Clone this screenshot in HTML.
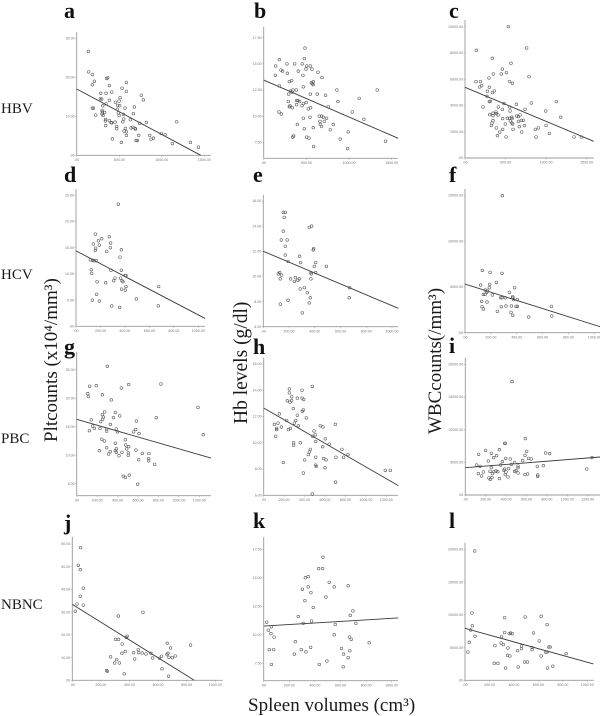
<!DOCTYPE html>
<html lang="en">
<head>
<meta charset="utf-8">
<title>Spleen volume correlations</title>
<style>
html,body{margin:0;padding:0;background:#fff;width:600px;height:716px;overflow:hidden}
svg{display:block;position:absolute;left:0;top:0}
text{font-family:"Liberation Serif",serif;fill:#1a1a1a}
.letter{font-size:22px;font-weight:bold;fill:#111}
.row{font-size:15px}
.ytitle{font-size:19px}
.xtitle{font-size:19px}
.tick{font-family:"Liberation Sans",sans-serif;font-size:3.6px;fill:#777}
</style>
</head>
<body>
<svg id="figure" width="600" height="716" viewBox="0 0 600 716" xmlns="http://www.w3.org/2000/svg">
<text class="letter" x="64" y="18">a</text>
<text class="letter" x="254" y="18">b</text>
<text class="letter" x="449" y="18">c</text>
<text class="letter" x="64" y="182">d</text>
<text class="letter" x="253" y="182">e</text>
<text class="letter" x="449" y="182">f</text>
<text class="letter" x="64" y="354">g</text>
<text class="letter" x="253" y="354">h</text>
<text class="letter" x="449" y="353">i</text>
<text class="letter" x="64" y="530">j</text>
<text class="letter" x="253" y="528">k</text>
<text class="letter" x="449" y="528">l</text>
<text class="row" x="1" y="113">HBV</text>
<text class="row" x="1" y="279">HCV</text>
<text class="row" x="1" y="443">PBC</text>
<text class="row" x="1" y="609">NBNC</text>
<text class="ytitle" transform="translate(57 442) rotate(-90)">Pltcounts (x10⁴/mm³)</text>
<text class="ytitle" style="font-size:19.5px" transform="translate(247 424) rotate(-90)">Hb levels (g/dl)</text>
<text class="ytitle" transform="translate(441 434) rotate(-90)">WBCcounts(/mm³)</text>
<text class="xtitle" x="248" y="711">Spleen volumes (cm³)</text>
</svg>
<script>
const panelAPoints=[[137,26.6],[141,21.4],[184,20.7],[208,19.0],[184,18.1],[282,15.9],[345,15.9],[353,19.7],[365,19.9],[384,17.9],[412,16.2],[533,17.2],[584,18.7],[584,16.4],[760,15.4],[784,14.2],[510,14.8],[498,13.9],[455,13.6],[384,14.1],[278,14.5],[294,14.4],[345,13.2],[306,12.7],[482,12.8],[506,12.7],[568,12.1],[678,12.4],[184,12.1],[196,12.1],[223,10.3],[298,11.5],[302,11.1],[329,11.0],[298,10.6],[310,10.2],[341,9.2],[337,8.8],[341,7.6],[384,8.9],[404,8.4],[412,8.3],[451,8.5],[470,7.4],[470,6.8],[478,11.8],[490,10.9],[498,10.2],[549,10.5],[553,9.3],[541,8.6],[631,9.1],[666,10.7],[819,8.4],[741,8.2],[1176,8.6],[572,6.9],[557,6.2],[584,6.0],[584,5.1],[639,7.0],[659,7.2],[686,6.9],[690,6.7],[729,5.1],[419,4.2],[525,3.3],[698,3.8],[713,3.8],[858,5.1],[874,4.1],[902,4.4],[992,5.6],[1039,5.3],[1125,3.0],[1337,3.3],[1431,2.1]];
const panelATrend=[[0,17],[1458,0]];
const panelAXTicks=[0,500,1000,1500];
const panelAYTicks=[0,10,20,30];

const panelBPoints=[[484,16.5],[476,15.5],[183,15.4],[273,15.0],[363,15.0],[452,15.0],[140,14.8],[503,14.8],[546,14.8],[495,14.5],[566,14.5],[203,14.4],[222,14.3],[406,14.3],[636,14.2],[277,14.1],[137,13.9],[460,13.9],[683,13.7],[328,13.4],[300,13.3],[558,13.2],[581,13.3],[569,13.1],[581,13.0],[183,12.9],[464,12.8],[858,12.5],[1330,12.5],[343,12.5],[382,12.5],[316,12.4],[332,12.3],[292,12.1],[546,12.1],[628,12.1],[725,12.0],[1119,11.7],[870,11.4],[289,11.4],[386,11.5],[402,11.5],[421,11.4],[464,11.2],[449,11.0],[386,11.1],[499,11.3],[300,10.9],[308,11.0],[335,10.8],[523,10.7],[550,10.8],[757,10.9],[179,10.4],[207,10.2],[1037,10.4],[651,10.0],[679,10.0],[542,9.9],[464,9.8],[698,9.9],[737,9.8],[1174,9.7],[659,9.5],[710,9.5],[394,9.2],[663,9.2],[679,9.0],[815,9.2],[476,8.8],[581,8.9],[780,8.7],[991,8.5],[339,8.0],[351,8.1],[503,8.0],[530,7.9],[897,7.8],[1427,7.6],[585,7.1],[983,6.9]];
const panelBTrend=[[0,13.45],[1576,7.88]];
const panelBXTicks=[0,500,1000,1500];
const panelBYTicks=[7.5,10,12.5,15,17.5];

const panelCPoints=[[534,10008],[760,8382],[140,8204],[337,7595],[567,7214],[460,6782],[510,6502],[448,6401],[349,6401],[296,6096],[789,6198],[547,5817],[584,5690],[136,5817],[189,5817],[206,5512],[181,5410],[300,5385],[275,5080],[362,5105],[337,4978],[271,4699],[300,4293],[312,4318],[1126,4293],[818,4191],[481,4140],[633,4089],[222,3886],[411,3886],[551,3886],[460,3708],[740,3708],[555,3581],[995,3581],[345,3404],[382,3505],[386,3378],[304,3302],[345,3226],[407,3277],[678,3277],[637,3200],[658,3150],[1180,3099],[464,2997],[522,3023],[547,3023],[575,3099],[580,2997],[559,2819],[658,2794],[695,2870],[719,2870],[345,2845],[333,2667],[575,2667],[497,2591],[588,2591],[325,2489],[732,2464],[670,2388],[999,2489],[386,2286],[464,2184],[592,2184],[867,2184],[904,2286],[427,1981],[699,1981],[1040,1880],[399,1702],[506,1600],[875,1600],[1344,1600],[1434,1600]];
const panelCTrend=[[0,5385],[1586,1270]];
const panelCXTicks=[0,500,1000,1500];
const panelCYTicks=[0,2000,4000,6000,8000,10000];

const panelDPoints=[[346,23.3],[158,17.6],[273,17.1],[210,16.7],[183,16.3],[142,15.7],[191,15.5],[283,15.9],[281,15.0],[161,14.9],[158,14.5],[251,14.3],[371,14.6],[360,13.2],[117,12.7],[134,12.6],[147,12.5],[166,12.5],[125,10.8],[128,10.1],[286,10.7],[371,10.7],[401,9.7],[409,9.7],[319,9.2],[365,9.2],[308,8.7],[172,8.5],[243,8.3],[376,8.7],[384,8.5],[409,7.6],[373,7.1],[403,6.9],[676,7.6],[169,6.1],[134,5.0],[191,4.8],[493,5.2],[292,3.9],[357,3.6],[673,3.9]];
const panelDTrend=[[0,14.4],[1055,1.5]];
const panelDXTicks=[0,200,400,600,800,1000];
const panelDYTicks=[0,5,10,15,20,25];

const panelEPoints=[[155,15.1],[171,15.1],[163,14.7],[357,13.9],[376,14.0],[155,13.6],[140,12.9],[186,12.9],[171,12.4],[391,12.2],[388,12.1],[171,11.7],[282,11.6],[192,11.2],[290,11.1],[407,11.1],[396,10.8],[490,10.8],[370,10.3],[373,10.2],[407,10.3],[127,10.3],[117,10.2],[142,10.1],[132,9.8],[212,9.8],[249,9.9],[241,9.6],[269,9.7],[280,9.8],[370,9.8],[671,9.1],[319,9.1],[287,9.0],[342,8.7],[365,8.3],[668,8.3],[192,8.1],[357,7.9],[132,7.8],[303,7.1]];
const panelETrend=[[0,12.0],[1049,7.46]];
const panelEXTicks=[0,200,400,600,800,1000];
const panelEYTicks=[6,8,10,12,14,16];

const panelFPoints=[[289,14960],[134,6807],[194,6588],[286,6479],[243,5496],[191,5278],[121,5205],[188,4914],[384,4914],[157,4659],[173,4550],[168,4404],[142,4186],[155,4186],[212,4113],[343,4404],[369,3931],[369,3822],[276,3822],[286,3822],[312,3822],[377,3604],[405,3604],[129,3422],[170,3349],[132,2839],[142,2584],[281,2839],[317,2912],[359,2912],[395,2876],[405,2876],[668,2876],[250,2330],[356,2220],[369,1893],[493,1711],[671,1820]];
const panelFTrend=[[0,5314],[1045,655]];
const panelFXTicks=[0,200,400,600,800,1000];
const panelFYTicks=[0,5000,10000,15000];

const panelGPoints=[[300,25.6],[509,22.4],[825,22.5],[127,22.1],[192,22.2],[437,21.8],[108,20.8],[114,20.3],[251,20.6],[339,19.7],[1187,18.4],[274,17.6],[251,17.1],[378,17.5],[421,16.9],[359,16.6],[261,16.7],[254,16.3],[235,15.9],[143,16.2],[584,16.0],[779,16.6],[329,15.4],[156,15.1],[173,14.7],[228,14.7],[293,14.6],[293,14.2],[124,14.3],[388,14.6],[398,14.1],[577,14.5],[557,14.1],[610,13.8],[1239,13.6],[245,12.8],[271,12.5],[476,12.7],[378,12.1],[479,11.8],[293,11.3],[388,11.1],[509,11.5],[489,11.1],[222,10.8],[378,10.8],[388,10.5],[329,10.6],[313,10.2],[443,10.5],[505,10.4],[505,10.0],[580,10.9],[642,10.3],[707,10.3],[414,9.9],[704,9.4],[704,9.0],[606,9.2],[763,8.4],[456,6.3],[476,6.1],[515,6.5],[597,4.9]];
const panelGTrend=[[0,16.3],[1314,9.5]];
const panelGXTicks=[0,200,400,600,800,1000,1200];
const panelGYTicks=[5,10,15,20,25];

const panelHPoints=[[476,14.3],[251,14.1],[251,13.8],[375,14.0],[274,13.5],[329,13.4],[375,13.4],[391,13.3],[231,13.2],[258,13.1],[274,13.2],[290,12.6],[388,12.5],[378,12.4],[329,12.1],[153,12.2],[417,11.9],[225,11.7],[313,11.7],[300,11.5],[339,11.3],[140,11.5],[104,11.4],[554,11.3],[580,11.2],[701,11.4],[173,11.2],[127,11.1],[127,11.0],[261,11.1],[241,11.0],[492,10.9],[505,10.6],[117,10.5],[479,10.5],[603,10.3],[509,10.1],[293,10.0],[293,9.8],[359,10.0],[642,9.9],[577,9.7],[766,9.5],[456,9.5],[447,9.3],[437,9.1],[825,9.1],[509,8.9],[707,8.9],[782,8.9],[587,8.8],[610,8.7],[401,8.7],[192,8.5],[509,8.3],[515,8.2],[600,8.1],[1190,7.9],[1239,7.9],[388,7.7],[704,7.0],[476,6.1]];
const panelHTrend=[[0,12.65],[1317,6.74]];
const panelHXTicks=[0,200,400,600,800,1000,1200];
const panelHYTicks=[6,8,10,12,14,16];

const panelIPoints=[[458,17340],[589,8619],[386,7905],[392,7905],[334,6936],[199,6834],[602,6681],[255,6375],[131,6222],[788,6426],[827,6324],[307,6018],[585,6069],[278,5712],[396,5610],[441,5508],[621,5610],[647,5508],[226,5202],[562,5253],[363,5100],[484,4947],[451,4692],[347,4590],[111,4590],[144,4386],[706,4386],[765,4488],[1243,5712],[255,4182],[386,3978],[425,4029],[517,4437],[517,4182],[1190,3978],[379,3774],[177,3519],[242,3621],[281,3570],[301,3672],[317,3570],[399,3519],[484,3621],[497,3723],[517,3366],[585,3111],[611,3213],[128,3264],[265,3264],[392,3111],[710,3060],[710,2856],[160,2907],[419,2754],[232,2601],[262,2652],[245,2397],[334,2499]];
const panelITrend=[[0,4182],[1321,5814]];
const panelIXTicks=[0,200,400,600,800,1000,1200];
const panelIYTicks=[0,5000,10000,15000,20000];

const panelJPoints=[[58,58.4],[42,50.6],[56,48.7],[77,40.6],[56,37.0],[33,33.6],[77,33.1],[21,30.4],[494,29.9],[322,28.3],[377,18.9],[384,19.4],[303,18.0],[324,18.0],[664,16.3],[827,15.5],[349,16.0],[687,14.2],[461,13.5],[268,10.3],[370,12.6],[347,11.9],[429,12.2],[464,12.2],[489,12.0],[515,11.6],[550,11.9],[669,11.9],[662,11.3],[624,10.6],[720,10.7],[676,10.1],[699,10.0],[562,9.8],[610,9.7],[436,9.4],[310,9.1],[296,7.6],[329,7.6],[627,5.1],[240,4.3],[245,4.0],[363,2.9],[673,1.8]];
const panelJTrend=[[0,33.4],[853,0]];
const panelJXTicks=[0,200,400,600,800,1000];
const panelJYTicks=[0,10,20,30,40,50,60];

const panelKPoints=[[463,16.8],[429,15.8],[460,15.8],[325,15.0],[348,15.1],[512,14.6],[348,14.2],[551,14.2],[660,14.3],[302,14.0],[369,13.7],[486,13.3],[322,13.0],[387,12.4],[697,12.1],[676,11.7],[270,11.6],[374,11.2],[23,11.1],[309,11.0],[559,10.9],[720,11.0],[60,10.7],[36,10.4],[57,10.1],[81,9.8],[551,10.0],[671,9.8],[684,9.6],[247,9.4],[824,9.3],[367,8.9],[44,8.7],[78,8.7],[294,8.7],[330,8.5],[608,8.8],[673,8.6],[239,8.3],[624,8.3],[660,8.0],[494,7.7],[434,7.4],[60,7.4],[621,7.2]];
const panelKTrend=[[0,10.77],[1050,11.48]];
const panelKXTicks=[0,200,400,600,800,1000];
const panelKYTicks=[7.5,10,12.5,15,17.5];

const panelLPoints=[[79,19749],[57,10282],[324,9569],[492,9671],[623,9773],[672,8500],[60,8348],[46,7686],[324,7279],[373,7228],[362,7126],[386,7126],[560,7228],[82,6719],[299,6668],[607,6006],[35,5803],[296,5701],[313,5446],[245,5294],[462,5243],[685,5090],[696,5090],[351,4937],[462,4836],[549,4988],[549,4683],[430,4530],[24,4327],[661,4276],[672,4327],[827,4072],[348,3818],[367,3716],[623,3716],[239,2596],[269,2596],[487,2800],[511,2800],[435,2036],[332,1883],[675,1883],[718,2138]];
const panelLTrend=[[0,7940],[1050,2494]];
const panelLXTicks=[0,200,400,600,800,1000];
const panelLYTicks=[0,5000,10000,15000,20000];

const panels=[
 {id:'a',pts:panelAPoints,trend:panelATrend,xt:panelAXTicks,yt:panelAYTicks,xs:[0,1500,76.7,204.3],ys:[0,30,155.3,38.3],right:211,top:32,bottom:155.3},
 {id:'b',pts:panelBPoints,trend:panelBTrend,xt:panelBXTicks,yt:panelBYTicks,xs:[0,1500,263.7,391.7],ys:[7.5,17.5,142.3,37.7],right:398,top:26.7,bottom:158.3},
 {id:'c',pts:panelCPoints,trend:panelCTrend,xt:panelCXTicks,yt:panelCYTicks,xs:[0,1500,465,586.7],ys:[0,10000,158,26.7],right:593.7,top:20,bottom:158},
 {id:'d',pts:panelDPoints,trend:panelDTrend,xt:panelDXTicks,yt:panelDYTicks,xs:[0,1000,76,198.3],ys:[0,25,326.3,195.3],right:205,top:189,bottom:326.3},
 {id:'e',pts:panelEPoints,trend:panelETrend,xt:panelEXTicks,yt:panelEYTicks,xs:[0,1000,263.3,392],ys:[6,16,326.7,201],right:398.3,top:195,bottom:326.7},
 {id:'f',pts:panelFPoints,trend:panelFTrend,xt:panelFXTicks,yt:panelFYTicks,xs:[0,1000,465,594.3],ys:[0,15000,332.7,195.3],right:600,top:189,bottom:332.7},
 {id:'g',pts:panelGPoints,trend:panelGTrend,xt:panelGXTicks,yt:panelGYTicks,xs:[0,1200,76.7,199.3],ys:[5,25,483.7,369.7],right:211,top:351.7,bottom:495.7},
 {id:'h',pts:panelHPoints,trend:panelHTrend,xt:panelHXTicks,yt:panelHYTicks,xs:[0,1200,263.7,386.3],ys:[6,16,495.3,364],right:398,top:357.7,bottom:495.3},
 {id:'i',pts:panelIPoints,trend:panelITrend,xt:panelIXTicks,yt:panelIYTicks,xs:[0,1200,465.3,587.7],ys:[0,20000,495,364.3],right:600,top:357.7,bottom:495},
 {id:'j',pts:panelJPoints,trend:panelJTrend,xt:panelJXTicks,yt:panelJYTicks,xs:[0,1000,72.3,215.3],ys:[0,60,680.3,544],right:222.7,top:536.7,bottom:680.3},
 {id:'k',pts:panelKPoints,trend:panelKTrend,xt:panelKXTicks,yt:panelKYTicks,xs:[0,1000,263.7,391.7],ys:[7.5,17.5,663.3,549.3],right:398,top:537.3,bottom:680.7},
 {id:'l',pts:panelLPoints,trend:panelLTrend,xt:panelLXTicks,yt:panelLYTicks,xs:[0,1000,465,587.3],ys:[0,20000,680.3,549.3],right:593.7,top:542.7,bottom:680.3}
];

const NS='http://www.w3.org/2000/svg';
const fig=document.getElementById('figure');
function mk(parent,tag,attrs){
  const el=document.createElementNS(NS,tag);
  for(const k in attrs){el.setAttribute(k,attrs[k]);}
  parent.appendChild(el);
  return el;
}
function axisScale(s){return v=>s[2]+(v-s[0])*(s[3]-s[2])/(s[1]-s[0]);}
function fmt(v){return v===0?'.00':v.toFixed(2);}
const AXIS='#9a9a9a';

panels.forEach(p=>{
  const X=axisScale(p.xs),Y=axisScale(p.ys);
  const left=X(0);
  const g=mk(fig,'g',{});
  
  

  const xAxis=mk(g,'line',{x1:left,x2:p.right,y1:p.bottom,y2:p.bottom,stroke:AXIS,'stroke-width':0.9});
  
  
  const yAxis=mk(g,'line',{x1:left,x2:left,y1:p.top,y2:p.bottom,stroke:AXIS,'stroke-width':0.9});
  
  

  p.xt.forEach(v=>{
    const tick=mk(g,'line',{x1:X(v),x2:X(v),y1:p.bottom,y2:p.bottom+1.5,stroke:AXIS,'stroke-width':0.5});
    
    
    const t=mk(g,'text',{x:X(v),y:p.bottom+5.6,'text-anchor':'middle','class':'tick'});
    
    
    t.textContent=fmt(v);
  });
  p.yt.forEach(v=>{
    const tick=mk(g,'line',{x1:left-1.5,x2:left,y1:Y(v),y2:Y(v),stroke:AXIS,'stroke-width':0.5});
    
    
    const t=mk(g,'text',{x:left-2,y:Y(v)+1.2,'text-anchor':'end','class':'tick'});
    
    
    t.textContent=fmt(v);
  });

  const tr=mk(g,'line',{x1:X(p.trend[0][0]),y1:Y(p.trend[0][1]),x2:X(p.trend[1][0]),y2:Y(p.trend[1][1]),stroke:'#3a3a3a','stroke-width':0.9});
  
  

  p.pts.forEach(pt=>{
    const c=mk(g,'circle',{cx:X(pt[0]),cy:Y(pt[1]),r:1.35,fill:'none',stroke:'#555','stroke-width':0.55});
    
    
  });
});
</script>
</body>
</html>
